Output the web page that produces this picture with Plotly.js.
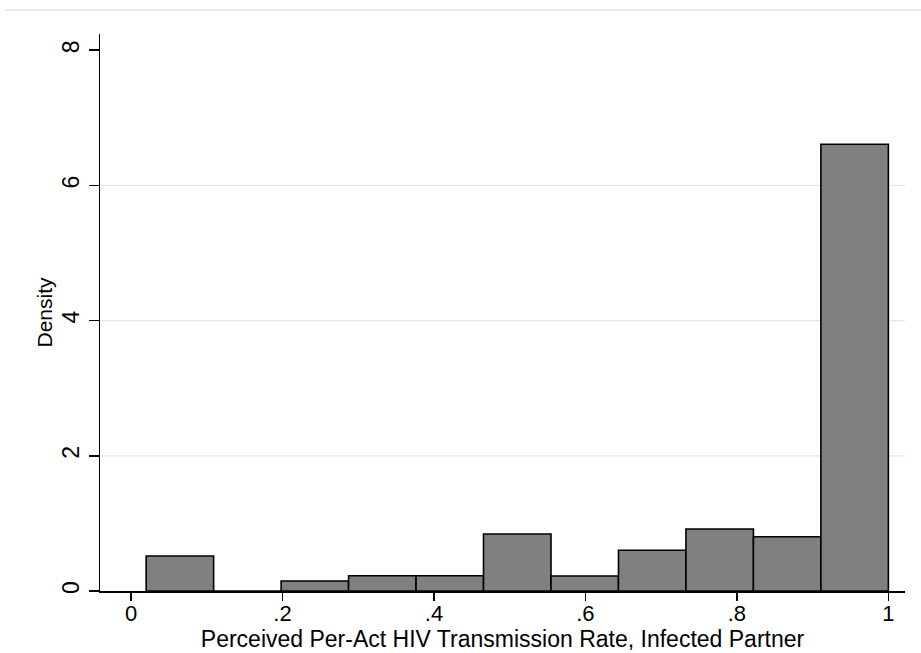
<!DOCTYPE html>
<html>
<head>
<meta charset="utf-8">
<script src="https://cdn.plot.ly/plotly-3.0.1.min.js"></script>
<style>html,body{margin:0;padding:0;background:#fff;}#chart{width:921px;height:653px;}</style>
</head>
<body>
<div id="chart"></div>
<script>
// Histogram bins (Stata-style: 11 bins from 0.02 to 1)
var binCenters = [0.0645, 0.1536, 0.2427, 0.3318, 0.4209, 0.5100, 0.5991, 0.6882, 0.7773, 0.8664, 0.9555];
var binWidth = 0.0891;
var density = [0.518, 0.0, 0.148, 0.226, 0.226, 0.843, 0.222, 0.602, 0.917, 0.803, 6.61];

var xTickVals = [0, 0.2, 0.4, 0.6, 0.8, 1];
var xTickText = ['0', '.2', '.4', '.6', '.8', '1'];
var yTickVals = [0, 2, 4, 6, 8];
var yTickText = ['0', '2', '4', '6', '8'];
var gridVals = [2, 4, 6];

var trace = {
  type: 'bar',
  x: binCenters,
  y: density,
  width: binCenters.map(function(){ return binWidth; }),
  marker: { color: '#808080', line: { color: '#000000', width: 1.6 } },
  hoverinfo: 'x+y'
};

var shapes = gridVals.map(function(v){
  return { type: 'line', xref: 'paper', yref: 'y', x0: 0, x1: 1, y0: v, y1: v,
           line: { color: '#e6e6e6', width: 1.2 }, layer: 'below' };
});
shapes.push({ type: 'line', xref: 'paper', yref: 'paper', x0: -0.118, x1: 1.02, y0: 1.043, y1: 1.043,
              line: { color: '#ececec', width: 2 } });

var layout = {
  width: 921, height: 653,
  margin: { l: 100, r: 16, t: 34, b: 62, pad: 0 },
  paper_bgcolor: '#ffffff', plot_bgcolor: '#ffffff',
  font: { family: '"Liberation Sans", Arial, sans-serif', size: 22, color: '#000000' },
  showlegend: false,
  bargap: 0,
  shapes: shapes,
  xaxis: {
    range: [-0.041, 1.022],
    tickvals: xTickVals, ticktext: xTickText,
    ticks: 'outside', ticklen: 8, tickwidth: 1.5, tickcolor: '#000',
    ticklabelstandoff: -6,
    showline: true, linecolor: '#000', linewidth: 2,
    showgrid: false, zeroline: false,
    tickfont: { size: 22 },
    title: { text: 'Perceived Per-Act HIV Transmission Rate, Infected Partner', font: { size: 23 }, standoff: 0 }
  },
  yaxis: {
    range: [0, 8.24],
    tickvals: yTickVals, ticktext: yTickText,
    tickangle: -90,
    ticks: 'outside', ticklen: 10, tickwidth: 1.5, tickcolor: '#000',
    ticklabelstandoff: 0,
    showline: true, linecolor: '#000', linewidth: 1.5,
    showgrid: false, zeroline: false,
    tickfont: { size: 23 },
    title: { text: 'Density', font: { size: 21 }, standoff: 0 }
  }
};

Plotly.newPlot('chart', [trace], layout, { staticPlot: true, displayModeBar: false });
</script>
</body>
</html>
